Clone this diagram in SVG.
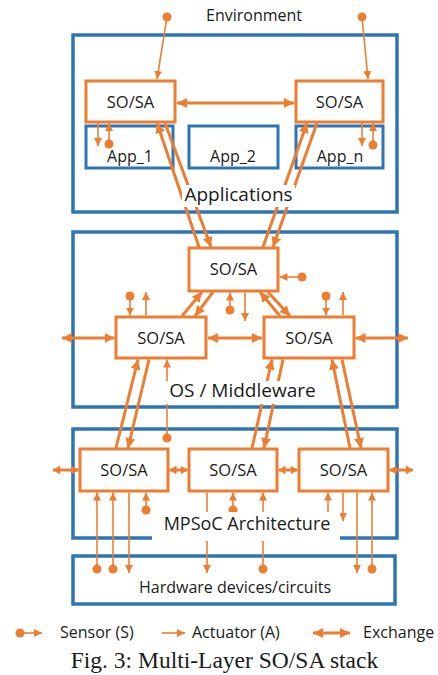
<svg xmlns="http://www.w3.org/2000/svg" width="438" height="675" viewBox="0 0 438 675">
<style>
.layer{fill:none;stroke:#2E75B6;stroke-width:3.5}
.app{fill:#fff;stroke:#2E75B6;stroke-width:3}
.node{fill:#fff;stroke:#ED7D31;stroke-width:3}
.t{font-family:"Open Sans","Noto Sans",sans-serif;fill:#1a1a1a;text-anchor:middle}
.thick{stroke:#ED7D31;stroke-width:3;fill:none;marker-end:url(#ah)}
.ex{stroke:#ED7D31;stroke-width:3;fill:none;marker-start:url(#ah);marker-end:url(#ah)}
.exs{stroke:#ED7D31;stroke-width:3;fill:none;marker-start:url(#ahs);marker-end:url(#ahs)}
.sen{stroke:#ED7D31;stroke-width:1.6;fill:none;marker-start:url(#dot);marker-end:url(#sh)}
.act{stroke:#ED7D31;stroke-width:1.6;fill:none;marker-end:url(#sh)}
.bg{fill:#fff}
</style>
<defs>
<marker id="ah" markerUnits="userSpaceOnUse" markerWidth="10" markerHeight="10" viewBox="0 0 10 10" refX="10" refY="5" orient="auto-start-reverse"><path d="M0,0 L10,5 L0,10 z" fill="#ED7D31"/></marker>
<marker id="ahs" markerUnits="userSpaceOnUse" markerWidth="7" markerHeight="9" viewBox="0 0 7 9" refX="7" refY="4.5" orient="auto-start-reverse"><path d="M0,0 L7,4.5 L0,9 z" fill="#ED7D31"/></marker>
<marker id="sh" markerUnits="userSpaceOnUse" markerWidth="8" markerHeight="8" viewBox="0 0 8 8" refX="8" refY="4" orient="auto"><path d="M0,0 L8,4 L0,8 z" fill="#ED7D31"/></marker>
<marker id="dot" markerUnits="userSpaceOnUse" markerWidth="10" markerHeight="10" viewBox="0 0 10 10" refX="5" refY="5" orient="auto"><circle cx="5" cy="5" r="4.5" fill="#ED7D31"/></marker>
</defs>
<rect width="438" height="675" fill="#fff"/>

<g id="layer-applications"><rect class="layer" x="73" y="35" width="324" height="177"/></g>
<g id="layer-os"><rect class="layer" x="73" y="232" width="324" height="175"/></g>
<g id="layer-mpsoc"><rect class="layer" x="73" y="429" width="324" height="109"/></g>
<g id="layer-hardware"><rect class="layer" x="73" y="556" width="322" height="48"/>
<text class="t" x="235" y="593" font-size="16">Hardware devices/circuits</text></g>

<g id="app1"><rect class="app" x="86" y="126" width="87" height="42"/><text class="t" x="130" y="162" font-size="16">App_1</text></g>
<g id="app2"><rect class="app" x="189" y="126" width="89" height="42"/><text class="t" x="233" y="162" font-size="16">App_2</text></g>
<g id="appn"><rect class="app" x="296" y="126" width="87" height="42"/><text class="t" x="340" y="162" font-size="16">App_n</text></g>

<g id="sosa-app-left"><rect class="node" x="86" y="81" width="89" height="41"/><text class="t" x="130.5" y="108" font-size="16.5">SO/SA</text></g>
<g id="sosa-app-right"><rect class="node" x="296" y="81" width="87" height="41"/><text class="t" x="339.5" y="108" font-size="16.5">SO/SA</text></g>
<g id="sosa-os-top"><rect class="node" x="189" y="248" width="89" height="43"/><text class="t" x="233.5" y="275" font-size="16.5">SO/SA</text></g>
<g id="sosa-os-left"><rect class="node" x="116" y="317" width="90" height="41"/><text class="t" x="161" y="344" font-size="16.5">SO/SA</text></g>
<g id="sosa-os-right"><rect class="node" x="264" y="317" width="90" height="41"/><text class="t" x="309" y="344" font-size="16.5">SO/SA</text></g>
<g id="sosa-hw-left"><rect class="node" x="80" y="449" width="88" height="42"/><text class="t" x="124" y="476" font-size="16.5">SO/SA</text></g>
<g id="sosa-hw-mid"><rect class="node" x="189" y="449" width="88" height="42"/><text class="t" x="233" y="476" font-size="16.5">SO/SA</text></g>
<g id="sosa-hw-right"><rect class="node" x="299" y="449" width="89" height="42"/><text class="t" x="343.5" y="476" font-size="16.5">SO/SA</text></g>

<g id="connectors">
<path class="sen" d="M167,17 L157,79"/>
<path class="sen" d="M362,17 L368,79"/>
<path class="ex" d="M177,103 L294,103"/>
<path class="act" d="M98,123 L98,146"/>
<path class="sen" d="M109,144 L109,123"/>
<path class="act" d="M362,123 L362,146"/>
<path class="sen" d="M373,145 L373,123"/>
<path class="thick" d="M199,247 L157,123"/>
<path class="thick" d="M165,123 L211,247"/>
<path class="thick" d="M263,247 L307,123"/>
<path class="thick" d="M317,123 L273,247"/>

<path class="sen" d="M302,277 L279.5,277"/>
<path class="sen" d="M230,310 L230,292.5"/>
<path class="act" d="M245,292.5 L245,321"/>
<path class="thick" d="M182,316 L202,292"/>
<path class="thick" d="M213,292 L195,316"/>
<path class="thick" d="M280,316 L260,292"/>
<path class="thick" d="M268,292 L290,316"/>
<path class="ex" d="M208,338 L262,338"/>
<path class="ex" d="M62,338 L114.5,338"/>
<path class="ex" d="M355.5,338 L408,338"/>
<path class="sen" d="M130,296 L130,315.5"/>
<path class="act" d="M146,315.5 L146,292"/>
<path class="sen" d="M326,296 L326,315.5"/>
<path class="act" d="M343,315.5 L343,292"/>

<path class="thick" d="M116,448 L138,359.5"/>
<path class="thick" d="M149,359.5 L128,448"/>
<path class="sen" d="M167,438 L167,359.5"/>
<path class="thick" d="M252,448 L272,359.5"/>
<path class="thick" d="M283,359.5 L264,448"/>
<path class="thick" d="M350,448 L332,359.5"/>
<path class="thick" d="M342,359.5 L361,448"/>

<path class="exs" d="M53,470 L78.5,470"/>
<path class="exs" d="M169.5,470 L187.5,470"/>
<path class="exs" d="M278.5,470 L297.5,470"/>
<path class="exs" d="M389.5,470 L413,470"/>

<path class="sen" d="M97,569 L97,492.5"/>
<path class="sen" d="M113,569 L113,492.5"/>
<path class="act" d="M129,492.5 L129,573"/>
<path class="sen" d="M146,510 L146,492.5"/>
<path class="act" d="M207,492.5 L207,573"/>
<path class="sen" d="M233,510 L233,492.5"/>
<path class="sen" d="M263,569 L263,492.5"/>
<path class="act" d="M328,518 L328,492.5"/>
<path d="M324,518 L332,518" stroke="#ED7D31" stroke-width="2.5"/>
<path class="act" d="M343,492.5 L343,521"/>
<path class="act" d="M357,492.5 L357,573"/>
<path class="sen" d="M372,569 L372,492.5"/>
</g>

<g id="labels">
<text class="t" x="254" y="21" font-size="16">Environment</text>
<rect class="bg" x="182" y="185" width="113" height="22"/>
<text class="t" x="238.5" y="201" font-size="19">Applications</text>
<rect class="bg" x="165" y="381" width="155" height="23"/>
<text class="t" x="242.5" y="397" font-size="19">OS / Middleware</text>
<rect class="bg" x="152" y="512" width="188" height="29"/>
<text class="t" x="247" y="530" font-size="18">MPSoC Architecture</text>
</g>

<g id="legend">
<path class="sen" d="M20,633 L42,633"/>
<text class="t" x="60" y="638" font-size="16" style="text-anchor:start">Sensor (S)</text>
<path class="act" d="M162,633 L185,633"/>
<text class="t" x="192" y="638" font-size="16" style="text-anchor:start">Actuator (A)</text>
<path class="ex" d="M313,633 L350,633"/>
<text class="t" x="363" y="638" font-size="16" style="text-anchor:start">Exchange</text>
</g>
<text x="224.5" y="668" font-family="'Liberation Serif',serif" font-size="23.5" fill="#1a1a1a" text-anchor="middle">Fig. 3: Multi-Layer SO/SA stack</text>
</svg>
